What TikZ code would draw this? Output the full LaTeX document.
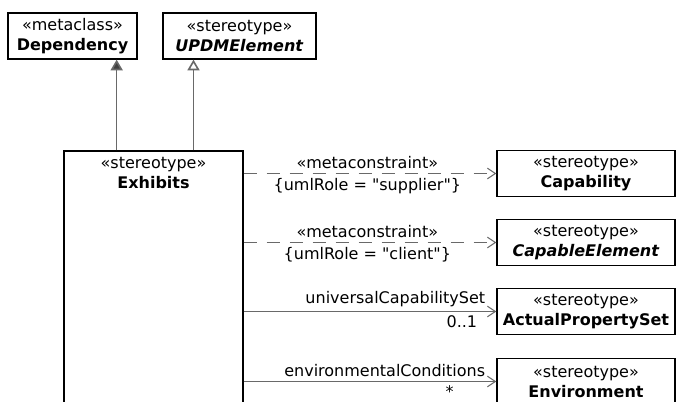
\documentclass[tikz,border=0pt]{standalone}
\usepackage{fontspec}
\setmainfont{DejaVu Sans}[Ligatures=TeXOff]
\usetikzlibrary{arrows.meta,positioning}
\definecolor{umlgray}{RGB}{105,105,105}
\definecolor{umldark}{RGB}{64,64,64}
\newcommand{\umlfont}{\fontsize{12}{15}\selectfont}

\begin{document}
\begin{tikzpicture}[x=0.75pt,y=-0.75pt,
  cls/.style={draw,line width=1pt,fill=white,minimum height=34.5pt,inner sep=1pt,font=\umlfont,align=center},
  tag/.style={font=\umlfont,text=black,inner sep=3pt},
  genfill/.style={-{Triangle[length=8pt,width=9pt,fill=umldark]},umlgray,line width=1.2pt},
  genopen/.style={-{Triangle[open,length=8pt,width=9pt,fill=white]},umlgray,line width=1.2pt},
  meta/.style={-{Straight Barb[length=6pt,width=8pt]},umlgray,line width=0.8pt,dash pattern=on 9.75pt off 7.5pt},
  assoc/.style={-{Straight Barb[length=6pt,width=8pt]},umlgray,line width=0.8pt}]
  \useasboundingbox (0,0) rectangle (677,402);
  \clip (0,0) rectangle (677,402);
  % Parents
  \node[cls,minimum width=96.75pt] (dep) at (72.5,36) {«metaclass»\\\textbf{Dependency}};
  \node[cls,minimum width=114.75pt] (upd) at (239.5,36) {«stereotype»\\\textbf{\itshape UPDMElement}};
  % Stereotype
  \node[cls,minimum width=134.25pt,minimum height=201.75pt,
    label={[anchor=north,align=center,font=\umlfont,inner sep=5pt]north:«stereotype»\\\textbf{Exhibits}}] (exhibits) at (153.5,285.5) {};
  % Targets
  \node[cls,minimum width=133.5pt] (cap) at (586,173.5) {«stereotype»\\\textbf{Capability}};
  \node[cls,minimum width=133.5pt] (capel) at (586,242.5) {«stereotype»\\\textbf{\itshape CapableElement}};
  \node[cls,minimum width=133.5pt] (aps) at (586,311.5) {«stereotype»\\\textbf{ActualPropertySet}};
  \node[cls,minimum width=133.5pt] (env) at (586,381.5) {«stereotype»\\\textbf{Environment}};
  % Generalizations
  \coordinate (depfoot) at ([xshift=-15.75pt]dep.south east);
  \coordinate (updfoot) at ([xshift=-34.5pt]upd.south);
  \draw[genfill] (depfoot |- exhibits.north) -- (depfoot);
  \draw[genopen] (updfoot |- exhibits.north) -- (updfoot);
  % Metaconstraints
  \draw[meta] (exhibits.east |- cap.west) -- (cap.west)
    node[tag,midway,above,xshift=-2pt] {«metaconstraint»}
    node[tag,midway,below,xshift=-2pt] {\{umlRole = "supplier"\}};
  \draw[meta] (exhibits.east |- capel.west) -- (capel.west)
    node[tag,midway,above,xshift=-2pt] {«metaconstraint»}
    node[tag,midway,below,xshift=-2pt] {\{umlRole = "client"\}};
  % Associations
  \draw[assoc] (exhibits.east |- aps.west) -- (aps.west)
    node[tag,pos=1,anchor=south east,xshift=-5pt] {universalCapabilitySet}
    node[tag,pos=1,anchor=north east,xshift=-11pt] {0..1};
  \draw[assoc] (exhibits.east |- env.west) -- (env.west)
    node[tag,pos=1,anchor=south east,xshift=-5pt] {environmentalConditions}
    node[tag,pos=1,anchor=north,xshift=-35pt] {*};
\end{tikzpicture}
\end{document}
